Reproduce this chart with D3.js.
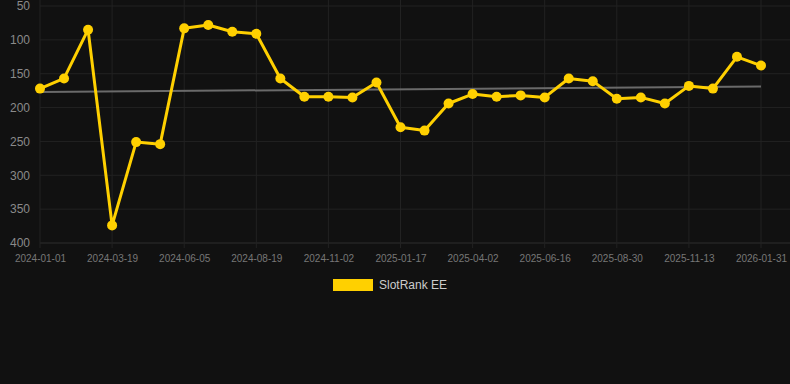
<!DOCTYPE html>
<html>
<head>
<meta charset="utf-8">
<script src="https://cdn.jsdelivr.net/npm/d3@7"></script>
<style>
  body { margin: 0; background: #111111; }
  svg { display: block; font-family: "Liberation Sans", Arial, sans-serif; }
</style>
</head>
<body>
<div id="chart"></div>
<script>
// chart size
const width = 790;
const height = 384;
const margin = {left: 40, right: 29, top: 6, bottom: 141};

// data
const dates = [
  "2024-01-01", "2024-01-27", "2024-02-22", "2024-03-19", "2024-04-14", "2024-05-10",
  "2024-06-05", "2024-06-30", "2024-07-25", "2024-08-19", "2024-09-13", "2024-10-08",
  "2024-11-02", "2024-11-27", "2024-12-23", "2025-01-17", "2025-02-11", "2025-03-08",
  "2025-04-02", "2025-04-27", "2025-05-22", "2025-06-16", "2025-07-11", "2025-08-05",
  "2025-08-30", "2025-09-24", "2025-10-19", "2025-11-13", "2025-12-08", "2026-01-05",
  "2026-01-31"
];
const ranks = [
  172, 157, 85, 374, 251, 254,
  83, 78, 88, 91, 157, 184,
  184, 185, 163, 229, 234, 194,
  180, 184, 182, 185, 157, 161,
  187, 185, 194, 168, 172, 125,
  138
];
const trendStart = 177;
const trendEnd = 169;
const yTicks = [50, 100, 150, 200, 250, 300, 350, 400];
const seriesName = "SlotRank EE";

const yellow = "#ffd000";

const svg = d3.select("#chart")
  .append("svg")
  .attr("width", width)
  .attr("height", height);

// scales
let xScale = d3.scalePoint()
  .domain(dates)
  .range([margin.left, width - margin.right]);

let yScale = d3.scaleLinear()
  .domain([50, 400])
  .range([margin.top, height - margin.bottom]);

const xTickVals = dates.filter((d, i) => i % 3 === 0);

// horizontal grid + y labels
svg.append("g")
  .attr("transform", `translate(${margin.left},0)`)
  .call(d3.axisLeft(yScale).tickValues(yTicks).tickSize(0).tickPadding(10))
  .call(g => g.select(".domain").remove())
  .call(g => g.selectAll(".tick text")
    .attr("fill", "#8a8a8a")
    .attr("font-size", "12px"));

svg.append("g")
  .selectAll("line")
  .data(yTicks)
  .join("line")
    .attr("x1", margin.left)
    .attr("x2", width)
    .attr("y1", d => yScale(d))
    .attr("y2", d => yScale(d))
    .attr("stroke", d => d === 400 ? "#2e2e2e" : "#222222")
    .attr("stroke-width", 1);

// vertical grid
svg.append("g")
  .selectAll("line")
  .data(xTickVals)
  .join("line")
    .attr("x1", d => xScale(d))
    .attr("x2", d => xScale(d))
    .attr("y1", 0)
    .attr("y2", yScale(400) + 5)
    .attr("stroke", "#222222")
    .attr("stroke-width", 1);

// x labels
svg.append("g")
  .attr("transform", `translate(0,${yScale(400)})`)
  .call(d3.axisBottom(xScale).tickValues(xTickVals).tickSize(0).tickPadding(12))
  .call(g => g.select(".domain").remove())
  .call(g => g.selectAll(".tick text")
    .attr("fill", "#777777")
    .attr("font-size", "10px"));

// trend line
svg.append("line")
  .attr("x1", xScale(dates[0]))
  .attr("x2", xScale(dates[dates.length - 1]))
  .attr("y1", yScale(trendStart))
  .attr("y2", yScale(trendEnd))
  .attr("stroke", "#6a6a6a")
  .attr("stroke-width", 2);

// series line
const line = d3.line()
  .x((d, i) => xScale(dates[i]))
  .y(d => yScale(d));

svg.append("path")
  .datum(ranks)
  .attr("fill", "none")
  .attr("stroke", yellow)
  .attr("stroke-width", 3)
  .attr("stroke-linejoin", "round")
  .attr("d", line);

svg.append("g")
  .selectAll("circle")
  .data(ranks)
  .join("circle")
    .attr("cx", (d, i) => xScale(dates[i]))
    .attr("cy", d => yScale(d))
    .attr("r", 5)
    .attr("fill", yellow);

// legend
const legend = svg.append("g").attr("transform", "translate(333,279)");
legend.append("rect")
  .attr("width", 40)
  .attr("height", 12)
  .attr("fill", yellow);
legend.append("text")
  .attr("x", 46)
  .attr("y", 10)
  .attr("fill", "#cccccc")
  .attr("font-size", "12px")
  .text(seriesName);
</script>
</body>
</html>
